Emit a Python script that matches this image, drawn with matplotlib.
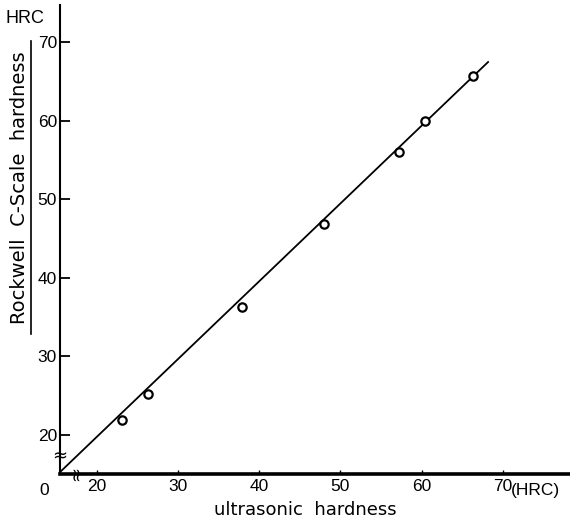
import matplotlib.pyplot as plt
from matplotlib.lines import Line2D

# readings (HRC)
ultrasonic = [23.1, 26.3, 37.8, 48.0, 57.2, 60.4, 66.4]
rockwell = [21.8, 25.2, 36.3, 46.9, 56.0, 60.0, 65.7]
fit_x = [15.4, 68.2]
fit_y = [15.2, 67.5]
x_ticks = [20, 30, 40, 50, 60, 70]
y_ticks = [20, 30, 40, 50, 60, 70]

plt.rcParams['font.family'] = ['Liberation Sans', 'DejaVu Sans']

fig = plt.figure(figsize=(5.7, 5.3), dpi=100)
ax = fig.add_axes([0.105, 0.106, 0.895, 0.885])

ax.plot(fit_x, fit_y, color='black', lw=1.3)
ax.plot(ultrasonic, rockwell, 'o', mfc='white', mec='black', ms=6, mew=1.6)

ax.set_xlim(15.4, 78.3)
ax.set_ylim(15.0, 74.8)
for side in ['top', 'right']:
    ax.spines[side].set_visible(False)
ax.spines['left'].set_linewidth(1.5)
ax.spines['bottom'].set_linewidth(2.6)

ax.set_xticks(x_ticks)
ax.set_xticklabels([str(t) for t in x_ticks])
ax.set_yticks(y_ticks)
ax.set_yticklabels([str(t) for t in y_ticks])
ax.tick_params(axis='y', direction='in', length=7, width=1.3, labelsize=12.5,
               pad=2)
ax.tick_params(axis='x', direction='in', length=3, width=1.0, labelsize=12.5,
               pad=4)

tr = ax.get_xaxis_transform()
ax.text(71.0, -0.035, '(HRC)', transform=tr, ha='left', va='center',
        fontsize=12.5)
ax.text(-0.03, -0.035, '0', transform=ax.transAxes, ha='center',
        va='center', fontsize=12.5)

# axis break marks
ax.text(0, 17.2, '≈', transform=ax.get_yaxis_transform(), ha='center',
        va='center', fontsize=13, clip_on=False, family='DejaVu Sans')
ax.text(17.5, 0, '≈', transform=tr, ha='center', va='center', fontsize=13,
        rotation=90, clip_on=False, family='DejaVu Sans')

fig.text(0.044, 0.966, 'HRC', ha='center', va='center', fontsize=13)
fig.text(0.535, 0.038, 'ultrasonic  hardness', ha='center', va='center',
         fontsize=13, family='DejaVu Sans')
fig.text(0.035, 0.646, 'Rockwell  C-Scale  hardness', ha='center',
         va='center', rotation=90, fontsize=14, family='DejaVu Sans')
fig.add_artist(Line2D([0.054, 0.054], [0.37, 0.922], color='black', lw=1.2))

fig.savefig('out.png', dpi=100)
